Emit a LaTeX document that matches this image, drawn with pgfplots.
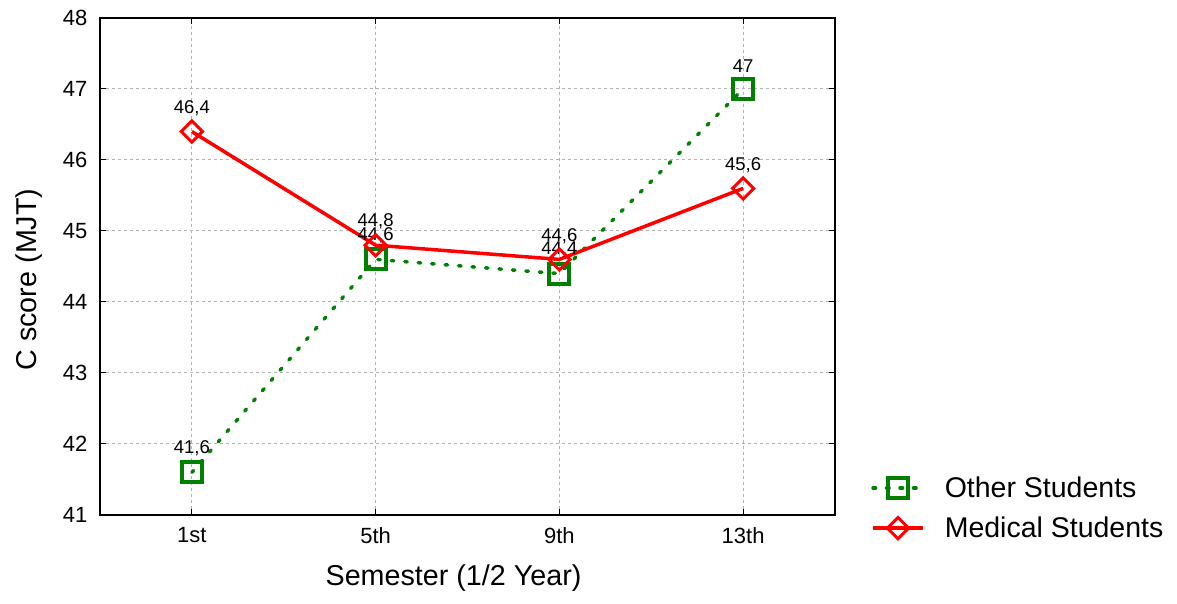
\documentclass[border=0pt]{standalone}
\usepackage{pgfplots}
\pgfplotsset{compat=1.18}
\usepackage{fontspec}
\setmainfont{Liberation Sans}
\definecolor{dgreen}{RGB}{0,128,0}
\begin{document}
\begin{tikzpicture}
\useasboundingbox (-100pt,-89pt) rectangle (1077pt,515pt);
\begin{axis}[
  at={(0pt,0pt)}, anchor=south west,
  scale only axis,
  width=735pt, height=497pt,
  xmin=-0.5, xmax=3.5, ymin=41, ymax=48,
  xtick={0,1,2,3}, xticklabels={1st,5th,9th,13th},
  ytick={41,42,...,48},
  tick align=inside, tick pos=both,
  major tick length=6pt,
  axis line style={line width=1.6pt},
  every tick/.style={black, line width=1pt},
  grid=major,
  grid style={gray!60, dash pattern=on 3pt off 3pt, line width=1pt},
  /pgf/number format/assume math mode=true,
  /pgf/number format/use comma,
  ticklabel style={font=\fontsize{22}{25}\selectfont},
  xticklabel style={yshift=-9pt},
  yticklabel style={xshift=-9pt},
  xlabel={Semester (1/2 Year)},
  ylabel={C score (MJT)},
  label style={font=\fontsize{28.7}{32}\selectfont},
  xlabel style={yshift=-14pt, xshift=-14pt},
  ylabel style={yshift=14pt, xshift=-13pt},
  nodes near coords,
  nodes near coords style={black, font=\fontsize{18.5}{20}\selectfont, anchor=south, yshift=11pt, /pgf/number format/use comma},
  legend style={at={(1.045,0.085)}, anchor=north west, draw=none, fill=none,
    font=\fontsize{28.5}{32}\selectfont, row sep=14pt,
    /tikz/column 1/.style={column sep=18pt}},
  legend cell align=left,
  legend image code/.code={
    \draw[mark repeat=2,mark phase=2] plot coordinates {(0pt,0pt) (25pt,0pt) (50pt,0pt)};
  },
]
\addplot[dgreen, line width=3.5pt, dash pattern=on 2.5pt off 11pt, line cap=round,
  mark=square, mark size=10pt, mark options={solid, fill=white, line width=4pt}]
  coordinates {(0,41.6) (1,44.6) (2,44.4) (3,47)};
\addlegendentry{Other Students}
\addplot[red, line width=3.5pt,
  mark=square, mark size=7.5pt, mark options={solid, fill=white, line width=3pt, rotate=45}]
  coordinates {(0,46.4) (1,44.8) (2,44.6) (3,45.6)};
\addlegendentry{Medical Students}
\end{axis}
\end{tikzpicture}
\end{document}
